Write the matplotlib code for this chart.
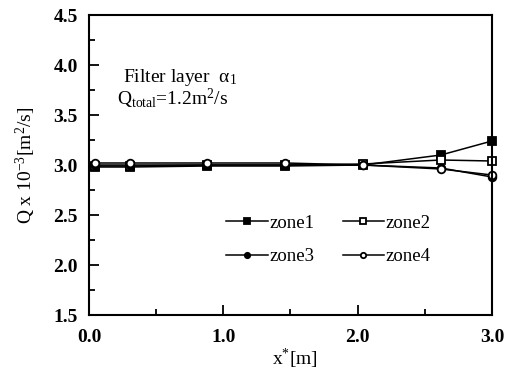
import numpy as np
import matplotlib
matplotlib.use("Agg")
import matplotlib.pyplot as plt
from matplotlib.ticker import MultipleLocator

x_pos = [0.045, 0.305, 0.88, 1.46, 2.04, 2.62, 3.0]
zone1 = [2.98, 2.98, 2.99, 2.99, 3.00, 3.10, 3.24]
zone2 = [2.99, 2.99, 3.00, 3.00, 3.01, 3.05, 3.04]
zone3 = [3.00, 3.00, 3.00, 3.00, 3.00, 2.97, 2.88]
zone4 = [3.02, 3.02, 3.02, 3.02, 3.00, 2.96, 2.90]
labels = ["zone1", "zone2", "zone3", "zone4"]

plt.rcParams['font.family'] = ['Liberation Serif', 'DejaVu Serif']
plt.rcParams['mathtext.fontset'] = 'custom'
plt.rcParams['mathtext.rm'] = 'Liberation Serif'
plt.rcParams['mathtext.it'] = 'Liberation Serif:italic'

fig = plt.figure(figsize=(5.13, 3.75), dpi=100)
ax = fig.add_axes([0.1735, 0.16, 0.7855, 0.80])

styles = [("s", "black"), ("s", "white"), ("o", "black"), ("o", "white")]
lines = []
for vals, lab, (m, fc) in zip([zone1, zone2, zone3, zone4], labels, styles):
    ln, = ax.plot(x_pos, vals, color="black", lw=1.1, marker=m, ms=5.5,
                  mfc=fc, mec="black", mew=1.3, label=lab, clip_on=False)
    lines.append(ln)

ax.set_xlim(0, 3.0)
ax.set_ylim(1.5, 4.5)
ax.xaxis.set_major_locator(MultipleLocator(1.0))
ax.xaxis.set_minor_locator(MultipleLocator(0.5))
ax.yaxis.set_major_locator(MultipleLocator(0.5))
ax.yaxis.set_minor_locator(MultipleLocator(0.25))
ax.xaxis.set_major_formatter(plt.FormatStrFormatter('%.1f'))
ax.yaxis.set_major_formatter(plt.FormatStrFormatter('%.1f'))
ax.tick_params(which="both", direction="in", top=False, right=False,
               width=1.3, labelsize=14)
ax.tick_params(which="major", length=7)
ax.tick_params(which="minor", length=4)
ax.tick_params(axis="x", which="major", pad=10)
ax.tick_params(axis="y", which="major", pad=8)
for lbl in ax.get_xticklabels() + ax.get_yticklabels():
    lbl.set_fontweight("bold")
for sp in ax.spines.values():
    sp.set_linewidth(1.5)

ax.set_xlabel(r"x$^{*}$[m]", fontsize=14, va="center")
ax.xaxis.set_label_coords(0.511, -0.145)
ax.set_ylabel(r"Q x 10$^{-3}$[m$^{2}$/s]", fontsize=14, labelpad=11)

ax.text(0.085, 0.79, r"Filter layer  α$_{\rm 1}$", transform=ax.transAxes,
        fontsize=14, va="center")
ax.text(0.07, 0.72, r"Q$_{\rm total}$=1.2m$^{2}$/s", transform=ax.transAxes,
        fontsize=14, va="center")

# matplotlib fills legend columns first, so reorder for zone1/zone2 on top row
order = [0, 2, 1, 3]
ax.legend([lines[i] for i in order], [labels[i] for i in order],
          loc="upper left", bbox_to_anchor=(0.299, 0.39), ncol=2,
          frameon=False, handlelength=2.2, handletextpad=0.1,
          columnspacing=1.5, labelspacing=0.85, fontsize=13.5,
          markerscale=0.7)

fig.savefig("out.png", dpi=100)
